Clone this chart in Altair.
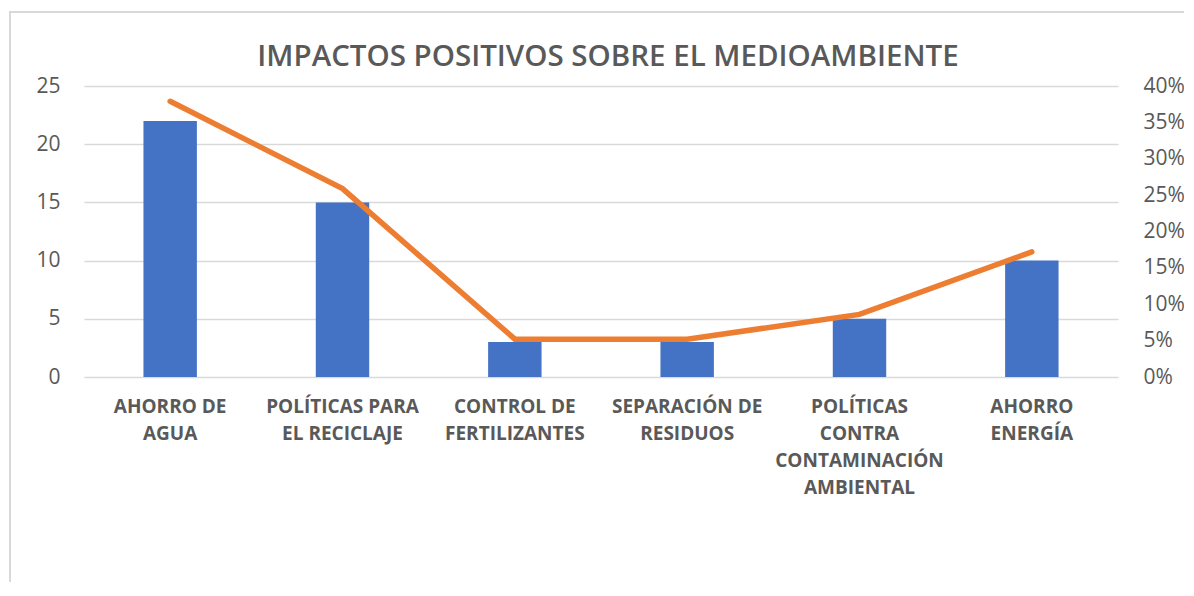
import altair as alt
import pandas as pd

title_text = "IMPACTOS POSITIVOS SOBRE EL MEDIOAMBIENTE"
categories = ["AHORRO DE AGUA", "POLÍTICAS PARA EL RECICLAJE", "CONTROL DE FERTILIZANTES",
              "SEPARACIÓN DE RESIDUOS", "POLÍTICAS CONTRA CONTAMINACIÓN AMBIENTAL", "AHORRO ENERGÍA"]
label_lines = [["AHORRO DE", "AGUA"], ["POLÍTICAS PARA", "EL RECICLAJE"], ["CONTROL DE", "FERTILIZANTES"],
               ["SEPARACIÓN DE", "RESIDUOS"], ["POLÍTICAS", "CONTRA", "CONTAMINACIÓN", "AMBIENTAL"],
               ["AHORRO", "ENERGÍA"]]
counts = [22, 15, 3, 3, 5, 10]
percents = [0.379, 0.259, 0.052, 0.052, 0.086, 0.172]
left_ticks = [0, 5, 10, 15, 20, 25]
right_ticks = [0, 0.05, 0.10, 0.15, 0.20, 0.25, 0.30, 0.35, 0.40]

df = pd.DataFrame({
    "categoria": categories,
    "label": ["|".join(l) for l in label_lines],
    "count": counts,
    "pct": percents,
})

FONT = "Open Sans"
GRAY = "#595959"

x_enc = alt.X("label:N", sort=None, title=None,
              scale=alt.Scale(paddingInner=0.69, paddingOuter=0.345),
              axis=alt.Axis(labelExpr="split(datum.value, '|')", labelAngle=0,
                            labelFont=FONT, labelFontSize=19, labelFontWeight="bold",
                            labelColor=GRAY, labelLineHeight=27, labelPadding=20,
                            ticks=False, domain=False, labelLimit=300))

frame = alt.Chart(df).mark_rect(fillOpacity=0, stroke="#d9d9d9", strokeWidth=2).encode(
    x=alt.value(-74), x2=alt.value(1300), y=alt.value(-74), y2=alt.value(700)
)

title = alt.Chart(pd.DataFrame({"t": [title_text]})).mark_text(
    font=FONT, fontSize=29.5, fontWeight=600, color=GRAY, align="center", baseline="middle"
).encode(text="t:N", x=alt.value(524), y=alt.value(-29))

bars = alt.Chart(df).mark_bar(color="#4472C4").encode(
    x=x_enc,
    y=alt.Y("count:Q", title=None,
            scale=alt.Scale(domain=[0, 25], nice=False),
            axis=alt.Axis(values=left_ticks, grid=True, gridColor="#d9d9d9", gridWidth=1.5,
                          domain=False, ticks=False, labelFont=FONT, labelFontSize=21,
                          labelColor=GRAY, labelPadding=24, orient="left")),
)

line = alt.Chart(df).mark_line(color="#ED7D31", strokeWidth=5.5, strokeCap="round").encode(
    x=x_enc,
    y=alt.Y("pct:Q", title=None,
            scale=alt.Scale(domain=[0, 0.4], nice=False),
            axis=alt.Axis(values=right_ticks, format=".0%", grid=False, domain=False, ticks=False,
                          labelFont=FONT, labelFontSize=21, labelColor=GRAY,
                          labelPadding=25, orient="right")),
)

base = alt.layer(bars, line).resolve_scale(y="independent")

chart = alt.layer(frame, title, base).resolve_scale(y="independent").properties(
    width=1034, height=291,
    autosize=alt.AutoSizeParams(type="none"),
    padding={"left": 76, "top": 78, "right": 66, "bottom": 205},
).configure_view(stroke=None)

chart.save("out.html", embed_options={"renderer": "svg", "actions": False})
